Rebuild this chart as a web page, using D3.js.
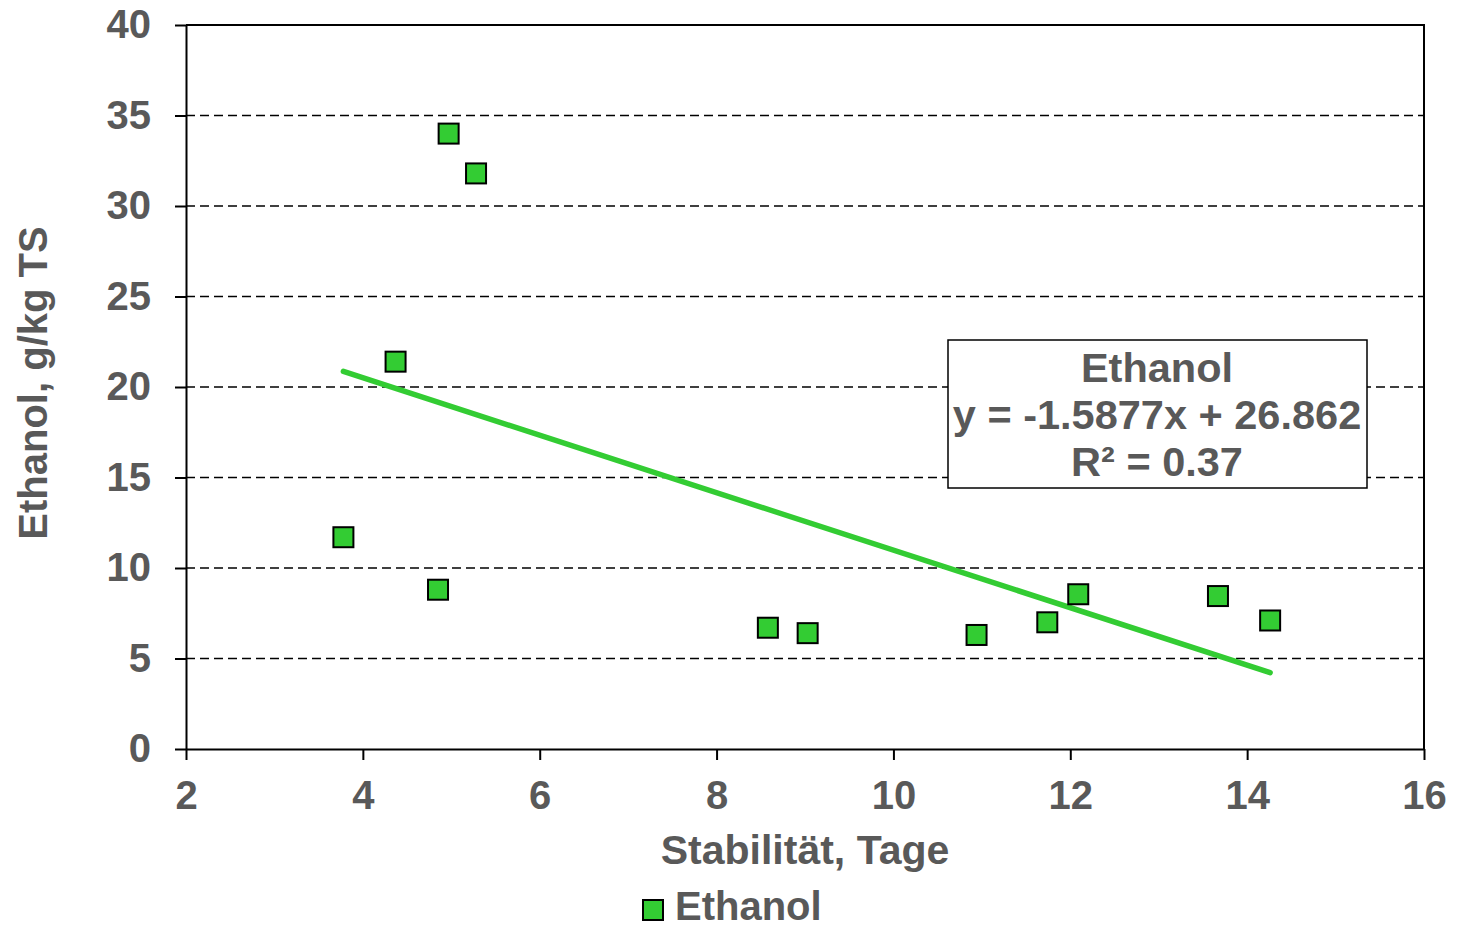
<!DOCTYPE html>
<html>
    <head>
        <script src="https://d3js.org/d3.v7.js"></script>
        <style>
            body{
                margin: 0;
                background: #fff;
            }
            text{
                font-family: 'Liberation Sans', Arial, sans-serif;
                font-weight: bold;
                fill: #595959;
            }
        </style>
    </head>
    <body>
        <div class="graph">
            <script>
                // Stabilität (Tage) und Ethanol (g/kg TS)
                const stabilitaet = [3.78, 4.37, 4.97, 5.28, 4.85, 8.58, 9.03, 10.94, 11.74, 12.09, 13.67, 14.26]
                const ethanol = [11.7, 21.4, 34.0, 31.8, 8.8, 6.7, 6.4, 6.3, 7.0, 8.55, 8.45, 7.1]

                const xTicks = [2, 4, 6, 8, 10, 12, 14, 16]
                const yTicks = [0, 5, 10, 15, 20, 25, 30, 35, 40]

                const slope = -1.5877
                const intercept = 26.862
                const rSquared = 0.37
                const seriesName = 'Ethanol'

                const w = 1458
                const h = 928
                const green = '#33cc33'

                const x = d3.scaleLinear().domain([2, 16]).range([186, 1424])
                const y = d3.scaleLinear().domain([0, 40]).range([749, 25])

                const svg = d3.select('.graph')
                        .append('svg')
                        .attr('width', w)
                        .attr('height', h)

                // dashed gridlines
                svg.append('g')
                    .selectAll('line')
                    .data(yTicks.filter(t => t > 0 && t < 40))
                    .enter()
                    .append('line')
                    .attr('x1', x(2))
                    .attr('x2', x(16))
                    .attr('y1', d => y(d))
                    .attr('y2', d => y(d))
                    .attr('stroke', '#000')
                    .attr('stroke-width', 1.5)
                    .attr('stroke-dasharray', '9,5')

                // frame (top + right)
                svg.append('path')
                    .attr('d', `M${x(2)},${y(40)}H${x(16)}V${y(0)}`)
                    .attr('fill', 'none')
                    .attr('stroke', '#000')
                    .attr('stroke-width', 2)

                const yAxis = d3.axisLeft(y)
                                .tickValues(yTicks)
                                .tickSize(11)
                                .tickPadding(24)
                                .tickSizeOuter(0)

                const xAxis = d3.axisBottom(x)
                                .tickValues(xTicks)
                                .tickSize(11)
                                .tickPadding(21)
                                .tickSizeOuter(0)

                const gy = svg.append('g')
                        .attr('transform', `translate(${x(2)},0)`)
                        .call(yAxis)

                const gx = svg.append('g')
                        .attr('transform', `translate(0,${y(0)})`)
                        .call(xAxis)

                for (const g of [gx, gy]) {
                    g.selectAll('.domain').attr('stroke', '#000').attr('stroke-width', 2)
                    g.selectAll('.tick line').attr('stroke', '#000').attr('stroke-width', 2)
                    g.selectAll('.tick text')
                        .style('font-size', '40px')
                        .style('font-family', "'Liberation Sans', Arial, sans-serif")
                        .style('font-weight', 'bold')
                        .attr('fill', '#595959')
                }

                // trend line
                const xMin = d3.min(stabilitaet)
                const xMax = d3.max(stabilitaet)
                svg.append('line')
                    .attr('x1', x(xMin))
                    .attr('y1', y(slope * xMin + intercept))
                    .attr('x2', x(xMax))
                    .attr('y2', y(slope * xMax + intercept))
                    .attr('stroke', green)
                    .attr('stroke-width', 5.5)
                    .attr('stroke-linecap', 'round')

                // markers
                const s = 20
                svg.append('g')
                    .selectAll('rect')
                    .data(stabilitaet.map((d, i) => [d, ethanol[i]]))
                    .enter()
                    .append('rect')
                    .attr('x', d => x(d[0]) - s / 2)
                    .attr('y', d => y(d[1]) - s / 2)
                    .attr('width', s)
                    .attr('height', s)
                    .attr('fill', green)
                    .attr('stroke', '#000')
                    .attr('stroke-width', 2)

                // equation box
                const box = svg.append('g')
                box.append('rect')
                    .attr('x', 948)
                    .attr('y', 340)
                    .attr('width', 419)
                    .attr('height', 148)
                    .attr('fill', '#fff')
                    .attr('stroke', '#000')
                    .attr('stroke-width', 1.5)

                const boxLines = [seriesName, `y = ${slope}x + ${intercept}`, `R² = ${rSquared}`]
                box.selectAll('text')
                    .data(boxLines)
                    .enter()
                    .append('text')
                    .attr('x', 1157)
                    .attr('y', (d, i) => 382 + i * 47)
                    .attr('text-anchor', 'middle')
                    .style('font-size', '41.5px')
                    .text(d => d)

                // axis titles
                svg.append('text')
                    .attr('x', 805)
                    .attr('y', 864)
                    .attr('text-anchor', 'middle')
                    .style('font-size', '41px')
                    .text('Stabilität, Tage')

                svg.append('text')
                    .attr('transform', 'translate(47,383) rotate(-90)')
                    .attr('text-anchor', 'middle')
                    .style('font-size', '40px')
                    .text('Ethanol, g/kg TS')

                // legend
                svg.append('rect')
                    .attr('x', 643)
                    .attr('y', 900)
                    .attr('width', 20)
                    .attr('height', 20)
                    .attr('fill', green)
                    .attr('stroke', '#000')
                    .attr('stroke-width', 2)

                svg.append('text')
                    .attr('x', 675)
                    .attr('y', 920)
                    .style('font-size', '40px')
                    .text(seriesName)
            </script>
        </div>
    </body>
</html>
